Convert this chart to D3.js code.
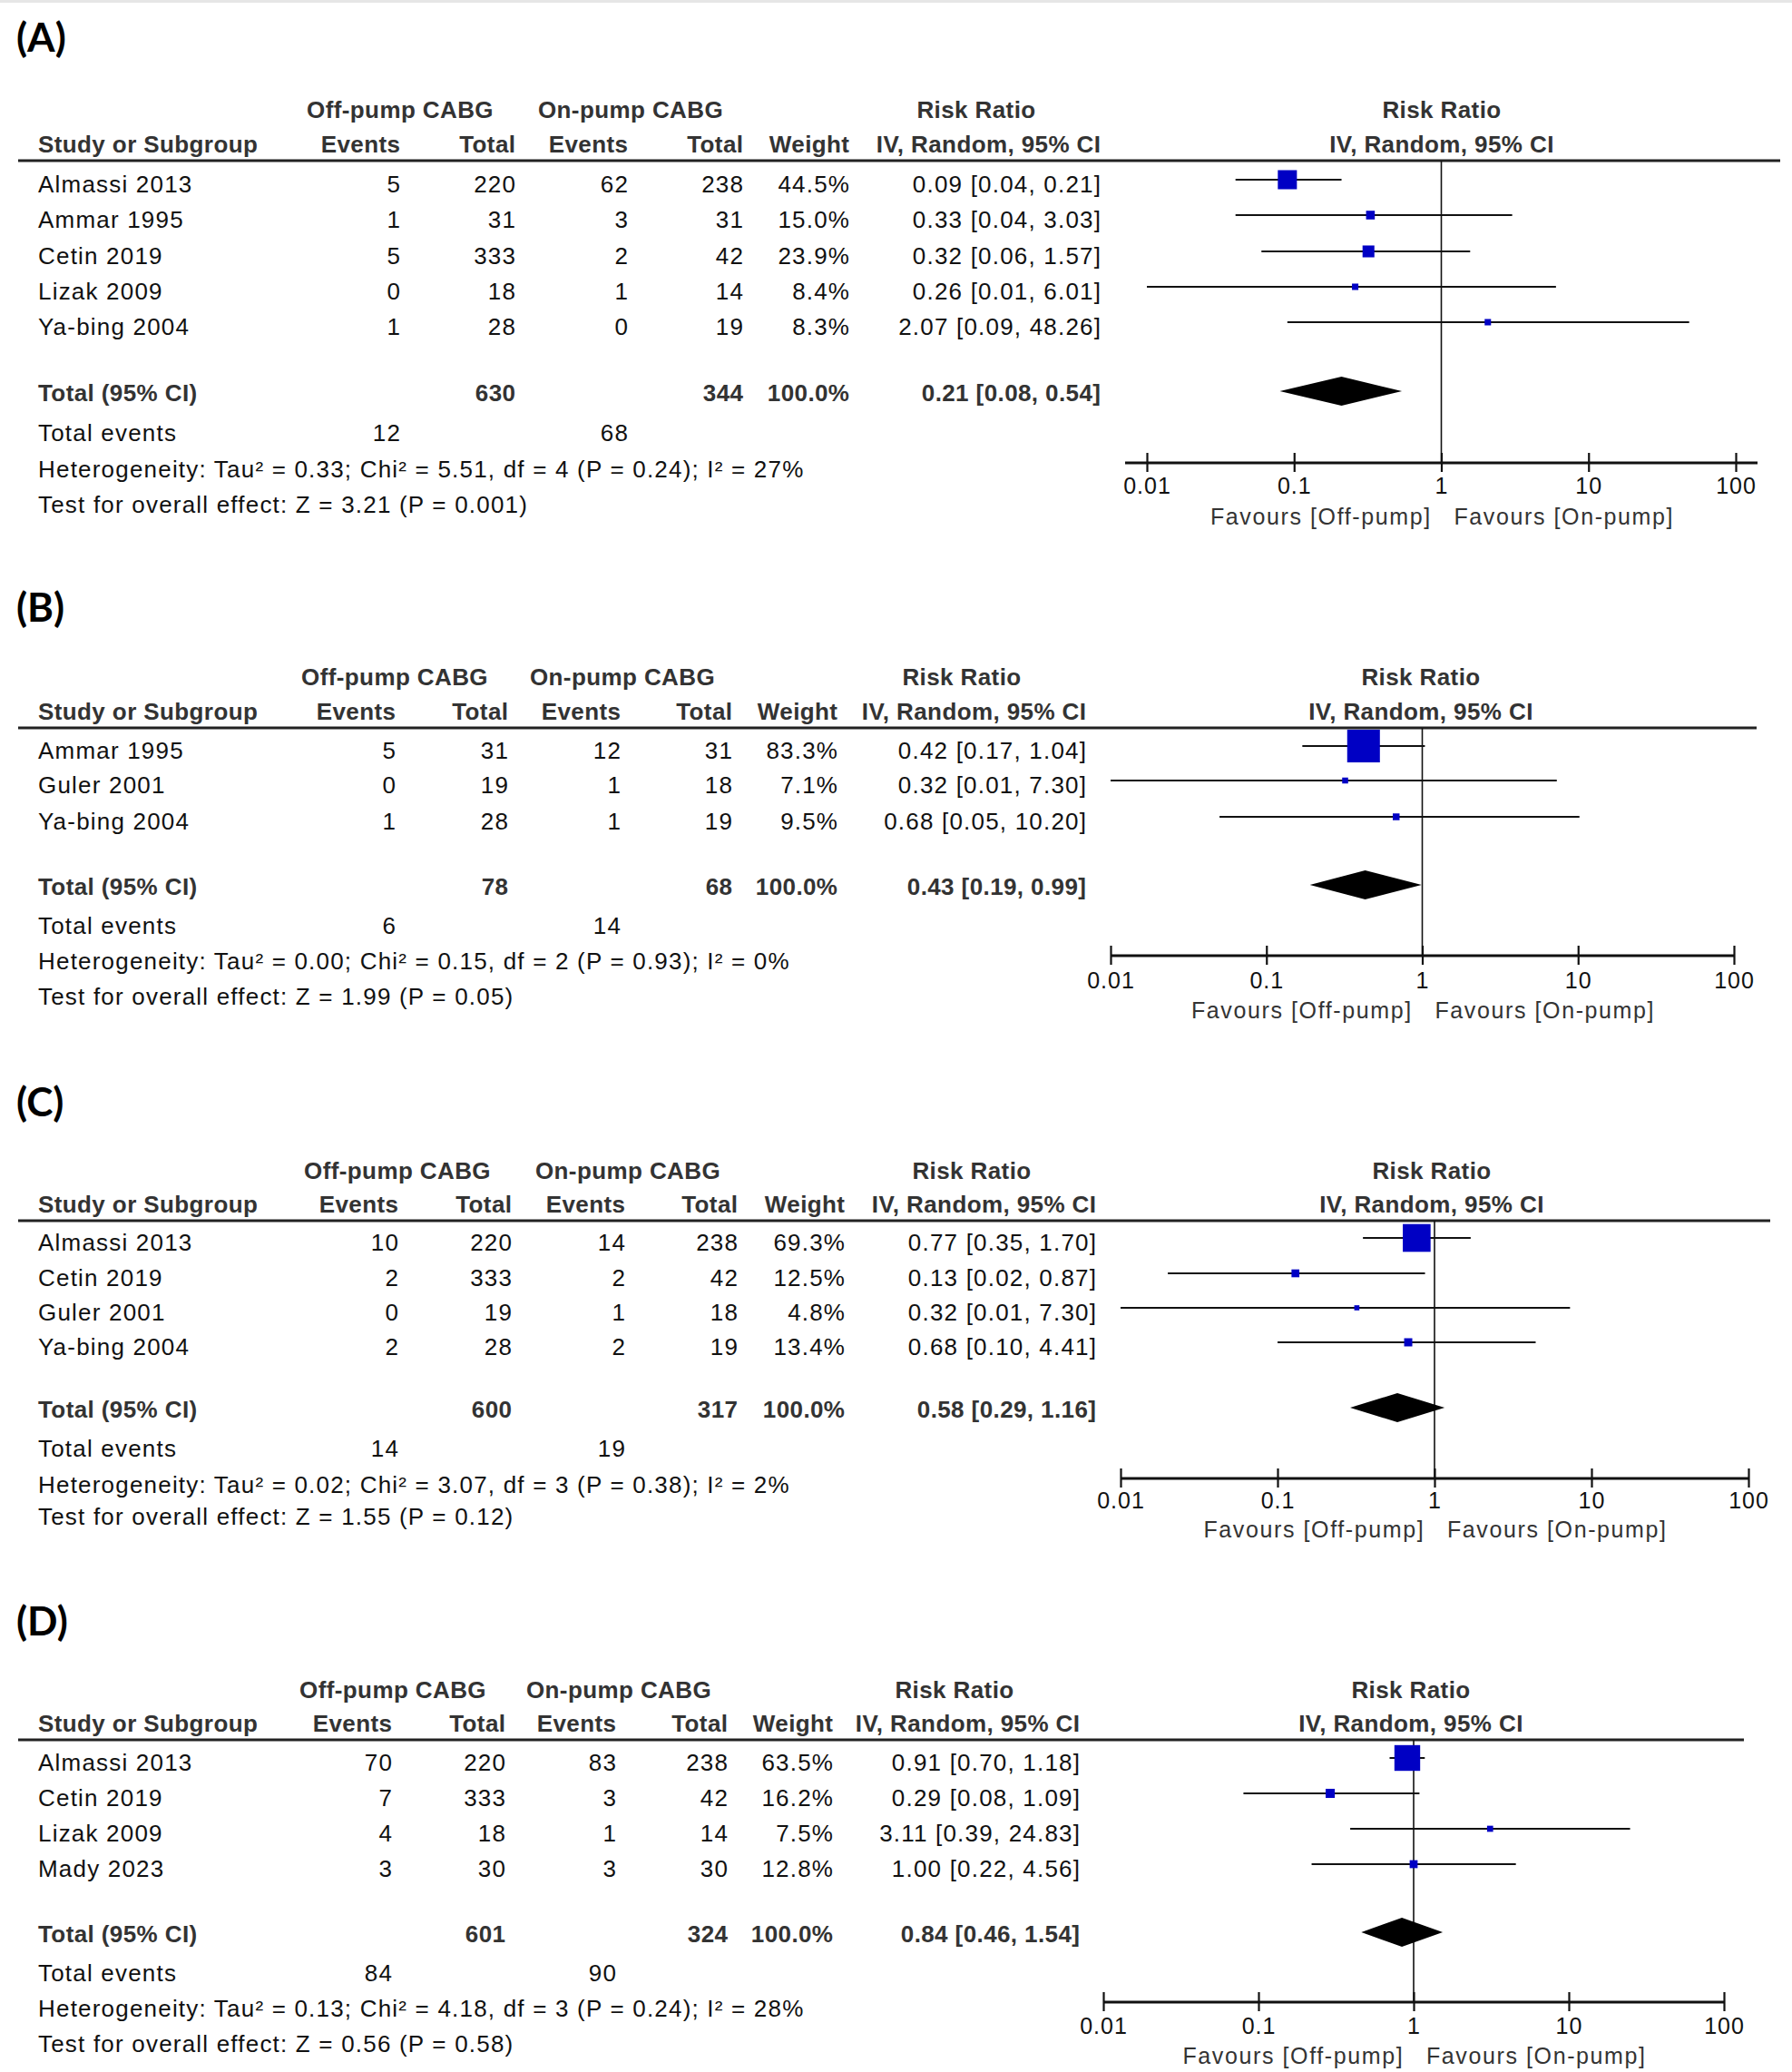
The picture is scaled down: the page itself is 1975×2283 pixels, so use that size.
<!DOCTYPE html>
<html>
<head>
<meta charset="utf-8">
<title>Forest plots</title>
<script src="https://cdn.jsdelivr.net/npm/d3@7"></script>
<style>
  body { margin: 0; background: #fff; }
  svg text { font-family: "Liberation Sans", Arial, sans-serif; font-size: 26px; fill: #111; letter-spacing: 1.2px; }
  svg text.b { font-weight: bold; fill: #333; letter-spacing: 0.4px; }
  svg text.lab { font-family: Lato, "Liberation Sans", sans-serif; font-weight: 700; font-size: 44px; fill: #000; letter-spacing: 0; }
  svg text.fav { font-size: 25px; fill: #333; letter-spacing: 1.6px; }
</style>
</head>
<body>
<svg id="chart"></svg>
<script>

// ---- data ----
var panelLabels = ["(A)", "(B)", "(C)", "(D)"];
var tickValues = [0.01, 0.1, 1, 10, 100];
var tickLabels = ["0.01", "0.1", "1", "10", "100"];

var studiesA   = ["Almassi 2013", "Ammar 1995", "Cetin 2019", "Lizak 2009", "Ya-bing 2004"];
var offEventsA = [5, 1, 5, 0, 1];
var offTotalA  = [220, 31, 333, 18, 28];
var onEventsA  = [62, 3, 2, 1, 0];
var onTotalA   = [238, 31, 42, 14, 19];
var weightA    = [44.5, 15.0, 23.9, 8.4, 8.3];
var rrA        = [0.09, 0.33, 0.32, 0.26, 2.07];
var loA        = [0.04, 0.04, 0.06, 0.01, 0.09];
var hiA        = [0.21, 3.03, 1.57, 6.01, 48.26];
var totalA     = [630, 344, 0.21, 0.08, 0.54];
var eventsA    = [12, 68];
var hetA       = ["0.33", "5.51", 4, "0.24", 27];
var testA      = ["3.21", "0.001"];

var studiesB   = ["Ammar 1995", "Guler 2001", "Ya-bing 2004"];
var offEventsB = [5, 0, 1];
var offTotalB  = [31, 19, 28];
var onEventsB  = [12, 1, 1];
var onTotalB   = [31, 18, 19];
var weightB    = [83.3, 7.1, 9.5];
var rrB        = [0.42, 0.32, 0.68];
var loB        = [0.17, 0.01, 0.05];
var hiB        = [1.04, 7.30, 10.20];
var totalB     = [78, 68, 0.43, 0.19, 0.99];
var eventsB    = [6, 14];
var hetB       = ["0.00", "0.15", 2, "0.93", 0];
var testB      = ["1.99", "0.05"];

var studiesC   = ["Almassi 2013", "Cetin 2019", "Guler 2001", "Ya-bing 2004"];
var offEventsC = [10, 2, 0, 2];
var offTotalC  = [220, 333, 19, 28];
var onEventsC  = [14, 2, 1, 2];
var onTotalC   = [238, 42, 18, 19];
var weightC    = [69.3, 12.5, 4.8, 13.4];
var rrC        = [0.77, 0.13, 0.32, 0.68];
var loC        = [0.35, 0.02, 0.01, 0.10];
var hiC        = [1.70, 0.87, 7.30, 4.41];
var totalC     = [600, 317, 0.58, 0.29, 1.16];
var eventsC    = [14, 19];
var hetC       = ["0.02", "3.07", 3, "0.38", 2];
var testC      = ["1.55", "0.12"];

var studiesD   = ["Almassi 2013", "Cetin 2019", "Lizak 2009", "Mady 2023"];
var offEventsD = [70, 7, 4, 3];
var offTotalD  = [220, 333, 18, 30];
var onEventsD  = [83, 3, 1, 3];
var onTotalD   = [238, 42, 14, 30];
var weightD    = [63.5, 16.2, 7.5, 12.8];
var rrD        = [0.91, 0.29, 3.11, 1.00];
var loD        = [0.70, 0.08, 0.39, 0.22];
var hiD        = [1.18, 1.09, 24.83, 4.56];
var totalD     = [601, 324, 0.84, 0.46, 1.54];
var eventsD    = [84, 90];
var hetD       = ["0.13", "4.18", 3, "0.24", 28];
var testD      = ["0.56", "0.58"];

// ---- layout (pixel positions of each panel) ----
var layouts = [
  { label: 42, h1: 121, h2: 159, line: 177, rows: [203, 242, 282, 321, 360], total: 433, ev: 477, het: 517, test: 556,
    axis: 510, tl: 535, fav: 569, x0: 1264, x1: 1913, pad: 24, lineEnd: 1962,
    cols: [441, 568, 692, 819, 936, 1213], offC: 441, onC: 695, rrC: 1076, plotC: 1589 },
  { label: 670, h1: 746, h2: 784, line: 802, rows: [827, 865, 905], total: 977, ev: 1020, het: 1059, test: 1098,
    axis: 1053, tl: 1080, fav: 1113, x0: 1224, x1: 1911, pad: 0, lineEnd: 1936,
    cols: [436, 560, 684, 807, 923, 1197], offC: 435, onC: 686, rrC: 1060, plotC: 1566 },
  { label: 1215, h1: 1290, h2: 1327, line: 1345, rows: [1369, 1408, 1446, 1484], total: 1553, ev: 1596, het: 1636, test: 1671,
    axis: 1629, tl: 1653, fav: 1685, x0: 1235, x1: 1927, pad: 0, lineEnd: 1951,
    cols: [439, 564, 689, 813, 931, 1208], offC: 438, onC: 692, rrC: 1071, plotC: 1578 },
  { label: 1787, h1: 1862, h2: 1899, line: 1917, rows: [1942, 1981, 2020, 2059], total: 2131, ev: 2174, het: 2213, test: 2252,
    axis: 2206, tl: 2232, fav: 2265, x0: 1216, x1: 1900, pad: 0, lineEnd: 1922,
    cols: [432, 557, 679, 802, 918, 1190], offC: 433, onC: 682, rrC: 1052, plotC: 1555 }
];

var panels = [
  [studiesA, offEventsA, offTotalA, onEventsA, onTotalA, weightA, rrA, loA, hiA, totalA, eventsA, hetA, testA],
  [studiesB, offEventsB, offTotalB, onEventsB, onTotalB, weightB, rrB, loB, hiB, totalB, eventsB, hetB, testB],
  [studiesC, offEventsC, offTotalC, onEventsC, onTotalC, weightC, rrC, loC, hiC, totalC, eventsC, hetC, testC],
  [studiesD, offEventsD, offTotalD, onEventsD, onTotalD, weightD, rrD, loD, hiD, totalD, eventsD, hetD, testD]
];

var W = 1975, H = 2283;
var svg = d3.select("#chart").attr("width", W).attr("height", H);
svg.append("rect").attr("width", W).attr("height", H).attr("fill", "#fff");
svg.append("rect").attr("width", W).attr("height", 3).attr("fill", "#e6e6e6");

var f2 = d3.format(".2f"), f1 = d3.format(".1f");
var boxSize = d3.scaleLinear().domain([0, 100]).range([3.8, 42.5]);

// right-aligned text: letter-spacing adds trailing space, so nudge right
function txt(g, x, y, s, anchor, cls) {
  var dx = 0;
  if (anchor === "end") dx = (cls === "b") ? 0.4 : 1.2;
  return g.append("text").attr("x", x + dx).attr("y", y).attr("dy", "0.35em")
    .attr("text-anchor", anchor || "start").attr("class", cls || null).text(s);
}

panels.forEach(function(p, i) {
  var L = layouts[i];
  var studies = p[0], offE = p[1], offT = p[2], onE = p[3], onT = p[4], wt = p[5],
      rr = p[6], lo = p[7], hi = p[8], tot = p[9], ev = p[10], het = p[11], test = p[12];
  var g = svg.append("g");
  var c = L.cols;

  var x = d3.scaleLog().domain([0.01, 100]).range([L.x0, L.x1]);

  // panel label
  txt(g, 18, L.label, panelLabels[i], "start", "lab");

  // headers
  txt(g, L.offC, L.h1, "Off-pump CABG", "middle", "b");
  txt(g, L.onC, L.h1, "On-pump CABG", "middle", "b");
  txt(g, L.rrC, L.h1, "Risk Ratio", "middle", "b");
  txt(g, L.plotC, L.h1, "Risk Ratio", "middle", "b");
  txt(g, 42, L.h2, "Study or Subgroup", "start", "b");
  ["Events", "Total", "Events", "Total", "Weight", "IV, Random, 95% CI"].forEach(function(h, k) {
    txt(g, c[k], L.h2, h, "end", "b");
  });
  txt(g, L.plotC, L.h2, "IV, Random, 95% CI", "middle", "b");

  g.append("line").attr("x1", 20).attr("x2", L.lineEnd).attr("y1", L.line).attr("y2", L.line)
    .attr("stroke", "#222").attr("stroke-width", 3);

  // line of no effect
  g.append("line").attr("x1", x(1)).attr("x2", x(1)).attr("y1", L.line).attr("y2", L.axis)
    .attr("stroke", "#111").attr("stroke-width", 1.6);

  // study rows
  studies.forEach(function(s, k) {
    var y = L.rows[k];
    txt(g, 42, y, s);
    txt(g, c[0], y, offE[k], "end");
    txt(g, c[1], y, offT[k], "end");
    txt(g, c[2], y, onE[k], "end");
    txt(g, c[3], y, onT[k], "end");
    txt(g, c[4], y, f1(wt[k]) + "%", "end");
    txt(g, c[5], y, f2(rr[k]) + " [" + f2(lo[k]) + ", " + f2(hi[k]) + "]", "end");

    var yl = y - 5;
    g.append("line").attr("x1", x(lo[k])).attr("x2", x(hi[k])).attr("y1", yl).attr("y2", yl)
      .attr("stroke", "#111").attr("stroke-width", 2.2);
    var b = boxSize(wt[k]);
    g.append("rect").attr("x", x(rr[k]) - b / 2).attr("y", yl - b / 2)
      .attr("width", b).attr("height", b).attr("fill", "#0000c4");
  });

  // total row
  txt(g, 42, L.total, "Total (95% CI)", "start", "b");
  txt(g, c[1], L.total, tot[0], "end", "b");
  txt(g, c[3], L.total, tot[1], "end", "b");
  txt(g, c[4], L.total, "100.0%", "end", "b");
  txt(g, c[5], L.total, f2(tot[2]) + " [" + f2(tot[3]) + ", " + f2(tot[4]) + "]", "end", "b");

  var yd = L.total - 2, hd = 16;
  g.append("path")
    .attr("d", "M" + x(tot[3]) + "," + yd + "L" + x(tot[2]) + "," + (yd - hd) +
               "L" + x(tot[4]) + "," + yd + "L" + x(tot[2]) + "," + (yd + hd) + "Z")
    .attr("fill", "#000");

  txt(g, 42, L.ev, "Total events");
  txt(g, c[0], L.ev, ev[0], "end");
  txt(g, c[2], L.ev, ev[1], "end");
  txt(g, 42, L.het, "Heterogeneity: Tau\u00B2 = " + het[0] + "; Chi\u00B2 = " + het[1] + ", df = " + het[2] +
    " (P = " + het[3] + "); I\u00B2 = " + het[4] + "%");
  txt(g, 42, L.test, "Test for overall effect: Z = " + test[0] + " (P = " + test[1] + ")");

  // axis
  g.append("line").attr("x1", L.x0 - L.pad).attr("x2", L.x1 + L.pad).attr("y1", L.axis).attr("y2", L.axis)
    .attr("stroke", "#111").attr("stroke-width", 3);
  var ax = g.append("g").attr("transform", "translate(0," + L.axis + ")")
    .call(d3.axisBottom(x).tickValues(tickValues).tickFormat(function(d, k) { return tickLabels[k]; }).tickSizeOuter(0));
  ax.select(".domain").remove();
  ax.selectAll(".tick line").attr("y1", -11).attr("y2", 10).attr("stroke", "#111").attr("stroke-width", 2.2);
  ax.selectAll(".tick text").attr("y", L.tl - L.axis).attr("dy", "0.35em")
    .style("font-size", "25px").style("font-family", "Liberation Sans, Arial, sans-serif")
    .style("letter-spacing", "1px").attr("fill", "#111");

  txt(g, x(1) - 12, L.fav, "Favours [Off-pump]", "end", "fav");
  txt(g, x(1) + 14, L.fav, "Favours [On-pump]", "start", "fav");
});

</script>
</body>
</html>
